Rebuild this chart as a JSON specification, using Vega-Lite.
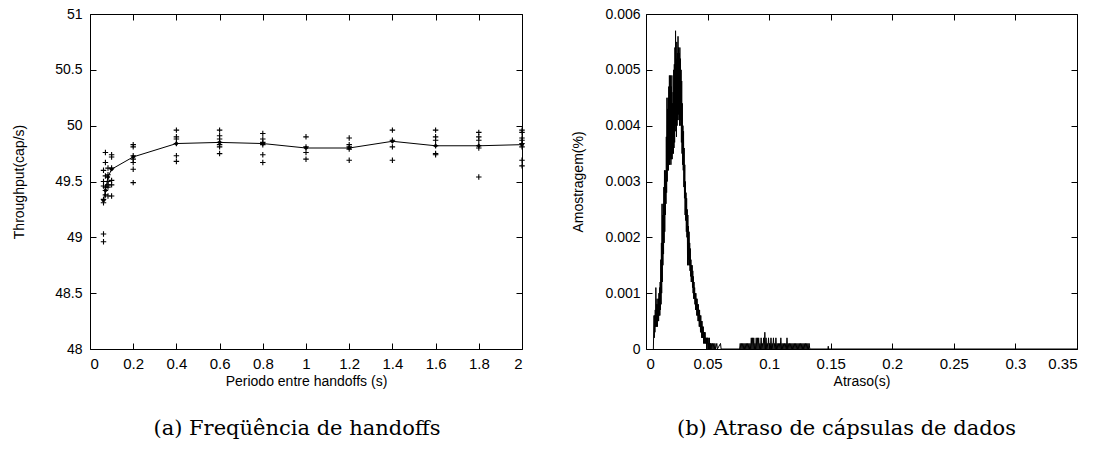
{
  "$schema": "https://vega.github.io/schema/vega-lite/v6.json",
  "background": "white",
  "padding": {"left": 12, "top": 6, "right": 5, "bottom": 5},
  "bounds": "flush",
  "spacing": 124,
  "config": {
    "view": {"stroke": "black", "strokeWidth": 1},
    "axis": {
      "grid": false,
      "domain": false,
      "ticks": true,
      "tickColor": "black",
      "tickWidth": 1,
      "tickSize": -6,
      "labelPadding": 14,
      "labelColor": "black",
      "labelFont": "Liberation Sans",
      "labelFontSize": 14,
      "titleFont": "Liberation Sans",
      "titleFontSize": 14,
      "titleFontWeight": "normal",
      "titleColor": "black"
    },
    "axisBottom": {"labelPadding": 13, "labelFontSize": 15},
    "title": {"font": "DejaVu Serif", "fontSize": 21, "fontWeight": "normal", "color": "black"}
  },
  "datasets": {
    "samples": [
      {"p": 0.0625, "t": 49.60}, {"p": 0.0625, "t": 49.50}, {"p": 0.0625, "t": 49.46}, {"p": 0.0625, "t": 49.34}, {"p": 0.0625, "t": 49.31}, {"p": 0.0625, "t": 49.03}, {"p": 0.0625, "t": 48.96},
      {"p": 0.0714, "t": 49.76}, {"p": 0.0714, "t": 49.67}, {"p": 0.0714, "t": 49.55}, {"p": 0.0714, "t": 49.45}, {"p": 0.0714, "t": 49.42}, {"p": 0.0714, "t": 49.38},
      {"p": 0.0833, "t": 49.62}, {"p": 0.0833, "t": 49.56}, {"p": 0.0833, "t": 49.50}, {"p": 0.0833, "t": 49.47}, {"p": 0.0833, "t": 49.45}, {"p": 0.0833, "t": 49.37},
      {"p": 0.1, "t": 49.74}, {"p": 0.1, "t": 49.72}, {"p": 0.1, "t": 49.62}, {"p": 0.1, "t": 49.51}, {"p": 0.1, "t": 49.47}, {"p": 0.1, "t": 49.37},
      {"p": 0.2, "t": 49.83}, {"p": 0.2, "t": 49.81}, {"p": 0.2, "t": 49.73}, {"p": 0.2, "t": 49.70}, {"p": 0.2, "t": 49.67}, {"p": 0.2, "t": 49.61}, {"p": 0.2, "t": 49.49},
      {"p": 0.4, "t": 49.96}, {"p": 0.4, "t": 49.90}, {"p": 0.4, "t": 49.88}, {"p": 0.4, "t": 49.84}, {"p": 0.4, "t": 49.73}, {"p": 0.4, "t": 49.68},
      {"p": 0.6, "t": 49.96}, {"p": 0.6, "t": 49.91}, {"p": 0.6, "t": 49.88}, {"p": 0.6, "t": 49.85}, {"p": 0.6, "t": 49.83}, {"p": 0.6, "t": 49.81}, {"p": 0.6, "t": 49.75},
      {"p": 0.8, "t": 49.93}, {"p": 0.8, "t": 49.88}, {"p": 0.8, "t": 49.85}, {"p": 0.8, "t": 49.83}, {"p": 0.8, "t": 49.74}, {"p": 0.8, "t": 49.67},
      {"p": 1.0, "t": 49.90}, {"p": 1.0, "t": 49.81}, {"p": 1.0, "t": 49.76}, {"p": 1.0, "t": 49.70},
      {"p": 1.2, "t": 49.89}, {"p": 1.2, "t": 49.83}, {"p": 1.2, "t": 49.81}, {"p": 1.2, "t": 49.79}, {"p": 1.2, "t": 49.69},
      {"p": 1.4, "t": 49.96}, {"p": 1.4, "t": 49.87}, {"p": 1.4, "t": 49.81}, {"p": 1.4, "t": 49.69},
      {"p": 1.6, "t": 49.96}, {"p": 1.6, "t": 49.90}, {"p": 1.6, "t": 49.87}, {"p": 1.6, "t": 49.82}, {"p": 1.6, "t": 49.75}, {"p": 1.6, "t": 49.74},
      {"p": 1.8, "t": 49.94}, {"p": 1.8, "t": 49.90}, {"p": 1.8, "t": 49.87}, {"p": 1.8, "t": 49.82}, {"p": 1.8, "t": 49.80}, {"p": 1.8, "t": 49.54},
      {"p": 2.0, "t": 49.96}, {"p": 2.0, "t": 49.94}, {"p": 2.0, "t": 49.89}, {"p": 2.0, "t": 49.87}, {"p": 2.0, "t": 49.84}, {"p": 2.0, "t": 49.81}, {"p": 2.0, "t": 49.69}, {"p": 2.0, "t": 49.64}
    ],
    "means": [
      {"p": 0.0625, "t": 49.33}, {"p": 0.0714, "t": 49.42}, {"p": 0.0833, "t": 49.54}, {"p": 0.1, "t": 49.61},
      {"p": 0.2, "t": 49.72}, {"p": 0.4, "t": 49.84}, {"p": 0.6, "t": 49.85}, {"p": 0.8, "t": 49.84},
      {"p": 1.0, "t": 49.80}, {"p": 1.2, "t": 49.80}, {"p": 1.4, "t": 49.86}, {"p": 1.6, "t": 49.82},
      {"p": 1.8, "t": 49.82}, {"p": 2.0, "t": 49.83}
    ],
    "delay": [
      {"d": 0.0060, "a": 0}, {"d": 0.0065, "a": 0.0006}, {"d": 0.00675, "a": 0.0002}, {"d": 0.0070, "a": 0.0006}, {"d": 0.00725, "a": 0.0003},
      {"d": 0.0075, "a": 0.0007}, {"d": 0.00775, "a": 0.0004}, {"d": 0.0080, "a": 0.0011}, {"d": 0.00825, "a": 0.0004}, {"d": 0.0085, "a": 0.0008},
      {"d": 0.00875, "a": 0.0004}, {"d": 0.0090, "a": 0.0009}, {"d": 0.00925, "a": 0.0004}, {"d": 0.0095, "a": 0.0008}, {"d": 0.00975, "a": 0.0005},
      {"d": 0.0100, "a": 0.0009}, {"d": 0.01025, "a": 0.0005}, {"d": 0.0105, "a": 0.0010}, {"d": 0.01075, "a": 0.0006}, {"d": 0.0110, "a": 0.0011},
      {"d": 0.01125, "a": 0.0006}, {"d": 0.0115, "a": 0.0012}, {"d": 0.01175, "a": 0.0007}, {"d": 0.0120, "a": 0.0016}, {"d": 0.01225, "a": 0.0008},
      {"d": 0.0125, "a": 0.0019}, {"d": 0.01275, "a": 0.0010}, {"d": 0.0130, "a": 0.0026}, {"d": 0.01325, "a": 0.0012}, {"d": 0.0135, "a": 0.0024},
      {"d": 0.01375, "a": 0.0015}, {"d": 0.0140, "a": 0.0026}, {"d": 0.01425, "a": 0.0017}, {"d": 0.0145, "a": 0.0029}, {"d": 0.01475, "a": 0.0019},
      {"d": 0.0150, "a": 0.0032}, {"d": 0.01525, "a": 0.0021}, {"d": 0.0155, "a": 0.0030}, {"d": 0.01575, "a": 0.0024}, {"d": 0.0160, "a": 0.0032},
      {"d": 0.01625, "a": 0.0026}, {"d": 0.0165, "a": 0.0038}, {"d": 0.01675, "a": 0.0028}, {"d": 0.0170, "a": 0.0045}, {"d": 0.01725, "a": 0.0030},
      {"d": 0.0175, "a": 0.0043}, {"d": 0.01775, "a": 0.0032}, {"d": 0.0180, "a": 0.0045}, {"d": 0.01825, "a": 0.0032}, {"d": 0.0185, "a": 0.0047},
      {"d": 0.01875, "a": 0.0033}, {"d": 0.0190, "a": 0.0049}, {"d": 0.01925, "a": 0.0033}, {"d": 0.0195, "a": 0.0046}, {"d": 0.01975, "a": 0.0034},
      {"d": 0.0200, "a": 0.0049}, {"d": 0.02025, "a": 0.0033}, {"d": 0.0205, "a": 0.0047}, {"d": 0.02075, "a": 0.0034}, {"d": 0.0210, "a": 0.0049},
      {"d": 0.02125, "a": 0.0034}, {"d": 0.0215, "a": 0.0044}, {"d": 0.02175, "a": 0.0035}, {"d": 0.0220, "a": 0.0046}, {"d": 0.02225, "a": 0.0035},
      {"d": 0.0225, "a": 0.0050}, {"d": 0.02275, "a": 0.0036}, {"d": 0.0230, "a": 0.0051}, {"d": 0.02325, "a": 0.0037}, {"d": 0.0235, "a": 0.0054},
      {"d": 0.02375, "a": 0.0039}, {"d": 0.0240, "a": 0.0057}, {"d": 0.02425, "a": 0.0040}, {"d": 0.0245, "a": 0.0052}, {"d": 0.02475, "a": 0.0038},
      {"d": 0.0250, "a": 0.0055}, {"d": 0.02525, "a": 0.0040}, {"d": 0.0255, "a": 0.0053}, {"d": 0.02575, "a": 0.0041}, {"d": 0.0260, "a": 0.0056},
      {"d": 0.02625, "a": 0.0042}, {"d": 0.0265, "a": 0.0054}, {"d": 0.02675, "a": 0.0041}, {"d": 0.0270, "a": 0.0053}, {"d": 0.02725, "a": 0.0040},
      {"d": 0.0275, "a": 0.0054}, {"d": 0.02775, "a": 0.0041}, {"d": 0.0280, "a": 0.0052}, {"d": 0.02825, "a": 0.0040}, {"d": 0.0285, "a": 0.0050},
      {"d": 0.02875, "a": 0.0037}, {"d": 0.0290, "a": 0.0048}, {"d": 0.02925, "a": 0.0035}, {"d": 0.0295, "a": 0.0044}, {"d": 0.02975, "a": 0.0033},
      {"d": 0.0300, "a": 0.0040}, {"d": 0.03025, "a": 0.0032}, {"d": 0.0305, "a": 0.0039}, {"d": 0.03075, "a": 0.0029}, {"d": 0.0310, "a": 0.0036},
      {"d": 0.03125, "a": 0.0027}, {"d": 0.0315, "a": 0.0033}, {"d": 0.03175, "a": 0.0024}, {"d": 0.0320, "a": 0.0030}, {"d": 0.03225, "a": 0.0023},
      {"d": 0.0325, "a": 0.0028}, {"d": 0.03275, "a": 0.0021}, {"d": 0.0330, "a": 0.0027}, {"d": 0.03325, "a": 0.0020}, {"d": 0.0335, "a": 0.0025},
      {"d": 0.03375, "a": 0.0015}, {"d": 0.0340, "a": 0.0024}, {"d": 0.03425, "a": 0.0016}, {"d": 0.0345, "a": 0.0022}, {"d": 0.03475, "a": 0.0015},
      {"d": 0.0350, "a": 0.0021}, {"d": 0.03525, "a": 0.0015}, {"d": 0.0355, "a": 0.0019}, {"d": 0.03575, "a": 0.0014}, {"d": 0.0360, "a": 0.0018},
      {"d": 0.03625, "a": 0.0013}, {"d": 0.0365, "a": 0.0016}, {"d": 0.03675, "a": 0.0012}, {"d": 0.0370, "a": 0.0015}, {"d": 0.03725, "a": 0.0012},
      {"d": 0.0375, "a": 0.0015}, {"d": 0.03775, "a": 0.0011}, {"d": 0.0380, "a": 0.0014}, {"d": 0.03825, "a": 0.0010}, {"d": 0.0385, "a": 0.0013},
      {"d": 0.03875, "a": 0.0009}, {"d": 0.0390, "a": 0.0012}, {"d": 0.03925, "a": 0.0009}, {"d": 0.0395, "a": 0.0011}, {"d": 0.03975, "a": 0.0008},
      {"d": 0.0400, "a": 0.0010}, {"d": 0.04025, "a": 0.0007}, {"d": 0.0405, "a": 0.0010}, {"d": 0.04075, "a": 0.0007}, {"d": 0.0410, "a": 0.0009},
      {"d": 0.04125, "a": 0.0006}, {"d": 0.0415, "a": 0.0009}, {"d": 0.04175, "a": 0.0006}, {"d": 0.0420, "a": 0.0008}, {"d": 0.04225, "a": 0.0005},
      {"d": 0.0425, "a": 0.0008}, {"d": 0.04275, "a": 0.0005}, {"d": 0.0430, "a": 0.0007}, {"d": 0.04325, "a": 0.0004}, {"d": 0.0435, "a": 0.0007},
      {"d": 0.04375, "a": 0.0004}, {"d": 0.0440, "a": 0.0006}, {"d": 0.04425, "a": 0.0003}, {"d": 0.0445, "a": 0.0006}, {"d": 0.04475, "a": 0.0003},
      {"d": 0.0450, "a": 0.0005}, {"d": 0.04525, "a": 0.0002}, {"d": 0.0455, "a": 0.0005}, {"d": 0.04575, "a": 0.0002}, {"d": 0.0460, "a": 0.0004},
      {"d": 0.04625, "a": 0.0002}, {"d": 0.0465, "a": 0.0004}, {"d": 0.04675, "a": 0.0001}, {"d": 0.0470, "a": 0.0003}, {"d": 0.04725, "a": 0.0001},
      {"d": 0.0475, "a": 0.0003}, {"d": 0.04775, "a": 0.0001}, {"d": 0.0480, "a": 0.0003}, {"d": 0.04825, "a": 0.0001}, {"d": 0.0485, "a": 0.0002},
      {"d": 0.04875, "a": 0.0001}, {"d": 0.0490, "a": 0.0002}, {"d": 0.04925, "a": 0}, {"d": 0.0495, "a": 0.0002}, {"d": 0.04975, "a": 0.0001},
      {"d": 0.0500, "a": 0.0002}, {"d": 0.05025, "a": 0}, {"d": 0.0505, "a": 0.0002}, {"d": 0.05075, "a": 0}, {"d": 0.0510, "a": 0.0001},
      {"d": 0.05125, "a": 0}, {"d": 0.0515, "a": 0.0002}, {"d": 0.05175, "a": 0}, {"d": 0.0520, "a": 0.0001}, {"d": 0.05225, "a": 0},
      {"d": 0.0525, "a": 0.0001}, {"d": 0.05275, "a": 0}, {"d": 0.0530, "a": 0.0001}, {"d": 0.0535, "a": 0}, {"d": 0.0540, "a": 0.0001},
      {"d": 0.0545, "a": 0}, {"d": 0.0550, "a": 0.0001}, {"d": 0.0555, "a": 0}, {"d": 0.0560, "a": 0.0001}, {"d": 0.0565, "a": 0},
      {"d": 0.0575, "a": 0.0001}, {"d": 0.0580, "a": 0}, {"d": 0.0605, "a": 0.0001}, {"d": 0.0610, "a": 0}, {"d": 0.0760, "a": 0},
      {"d": 0.0765, "a": 0.0001}, {"d": 0.077, "a": 0}, {"d": 0.0775, "a": 0.0001}, {"d": 0.078, "a": 0}, {"d": 0.0785, "a": 0.0001},
      {"d": 0.079, "a": 0}, {"d": 0.0795, "a": 0.0001}, {"d": 0.080, "a": 0}, {"d": 0.0805, "a": 0.0001}, {"d": 0.081, "a": 0},
      {"d": 0.0815, "a": 0.0001}, {"d": 0.082, "a": 0}, {"d": 0.0825, "a": 0.0001}, {"d": 0.083, "a": 0}, {"d": 0.0835, "a": 0.0001},
      {"d": 0.084, "a": 0}, {"d": 0.0845, "a": 0.0001}, {"d": 0.085, "a": 0}, {"d": 0.0855, "a": 0.0002}, {"d": 0.086, "a": 0},
      {"d": 0.0865, "a": 0.0002}, {"d": 0.087, "a": 0}, {"d": 0.0875, "a": 0.0002}, {"d": 0.088, "a": 0}, {"d": 0.0885, "a": 0.0001},
      {"d": 0.089, "a": 0}, {"d": 0.0895, "a": 0.0002}, {"d": 0.090, "a": 0}, {"d": 0.0905, "a": 0.0002}, {"d": 0.091, "a": 0},
      {"d": 0.0915, "a": 0.0002}, {"d": 0.092, "a": 0}, {"d": 0.0925, "a": 0.0001}, {"d": 0.093, "a": 0}, {"d": 0.0935, "a": 0.0002},
      {"d": 0.094, "a": 0}, {"d": 0.0945, "a": 0.0001}, {"d": 0.095, "a": 0}, {"d": 0.0955, "a": 0.0002}, {"d": 0.096, "a": 0},
      {"d": 0.0965, "a": 0.0003}, {"d": 0.097, "a": 0}, {"d": 0.0975, "a": 0.0002}, {"d": 0.098, "a": 0}, {"d": 0.0985, "a": 0.0001},
      {"d": 0.099, "a": 0}, {"d": 0.0995, "a": 0.0002}, {"d": 0.100, "a": 0}, {"d": 0.1005, "a": 0.0001}, {"d": 0.101, "a": 0},
      {"d": 0.1015, "a": 0.0002}, {"d": 0.102, "a": 0}, {"d": 0.1025, "a": 0.0001}, {"d": 0.103, "a": 0}, {"d": 0.1035, "a": 0.0002},
      {"d": 0.104, "a": 0}, {"d": 0.1045, "a": 0.0001}, {"d": 0.105, "a": 0}, {"d": 0.1055, "a": 0.0002}, {"d": 0.106, "a": 0},
      {"d": 0.1065, "a": 0.0001}, {"d": 0.107, "a": 0}, {"d": 0.1075, "a": 0.0001}, {"d": 0.108, "a": 0}, {"d": 0.1085, "a": 0.0001},
      {"d": 0.109, "a": 0}, {"d": 0.1095, "a": 0.0002}, {"d": 0.110, "a": 0}, {"d": 0.1105, "a": 0.0001}, {"d": 0.111, "a": 0},
      {"d": 0.1115, "a": 0.0001}, {"d": 0.112, "a": 0}, {"d": 0.1125, "a": 0.0001}, {"d": 0.113, "a": 0}, {"d": 0.1135, "a": 0.0001},
      {"d": 0.114, "a": 0}, {"d": 0.1145, "a": 0.0002}, {"d": 0.115, "a": 0}, {"d": 0.1155, "a": 0.0001}, {"d": 0.116, "a": 0},
      {"d": 0.1165, "a": 0.0001}, {"d": 0.117, "a": 0}, {"d": 0.1175, "a": 0.0001}, {"d": 0.118, "a": 0}, {"d": 0.1185, "a": 0.0001},
      {"d": 0.119, "a": 0}, {"d": 0.1195, "a": 0.0001}, {"d": 0.120, "a": 0}, {"d": 0.1205, "a": 0.0001}, {"d": 0.121, "a": 0},
      {"d": 0.1215, "a": 0.0001}, {"d": 0.122, "a": 0}, {"d": 0.1225, "a": 0.0001}, {"d": 0.123, "a": 0}, {"d": 0.1235, "a": 0.0001},
      {"d": 0.124, "a": 0}, {"d": 0.1245, "a": 0.0001}, {"d": 0.125, "a": 0}, {"d": 0.1255, "a": 0.0001}, {"d": 0.126, "a": 0},
      {"d": 0.1265, "a": 0.0001}, {"d": 0.127, "a": 0}, {"d": 0.1275, "a": 0.0001}, {"d": 0.128, "a": 0}, {"d": 0.1285, "a": 0.0001},
      {"d": 0.129, "a": 0}, {"d": 0.1295, "a": 0.0001}, {"d": 0.130, "a": 0}, {"d": 0.1305, "a": 0.0001}, {"d": 0.131, "a": 0},
      {"d": 0.1315, "a": 0.0001}, {"d": 0.132, "a": 0}, {"d": 0.1325, "a": 0.0001}, {"d": 0.133, "a": 0},
      {"d": 0.1478, "a": 0}, {"d": 0.148, "a": 0.00005}, {"d": 0.1482, "a": 0}, {"d": 0.35, "a": 0}
    ]
  },
  "hconcat": [
    {
      "width": 432,
      "height": 335,
      "title": {"text": "(a) Freqüência de handoffs", "orient": "bottom", "anchor": "middle", "offset": 30, "dx": -9},
      "resolve": {"axis": {"x": "independent", "y": "independent"}},
      "layer": [
        {
          "data": {"name": "samples"},
          "mark": {"type": "point", "shape": "M-1,0H1M0,-1V1", "size": 30, "filled": false, "stroke": "black", "strokeWidth": 1.1, "opacity": 1},
          "encoding": {
            "x": {"field": "p", "type": "quantitative", "scale": {"domain": [0, 2], "nice": false},
              "axis": {"title": "Periodo entre handoffs (s)", "values": [0, 0.2, 0.4, 0.6, 0.8, 1, 1.2, 1.4, 1.6, 1.8, 2], "format": "~g", "titlePadding": 3}},
            "y": {"field": "t", "type": "quantitative", "scale": {"domain": [48, 51], "nice": false, "zero": false},
              "axis": {"title": "Throughput(cap/s)", "values": [48, 48.5, 49, 49.5, 50, 50.5, 51], "format": "~g", "titlePadding": 28}}
          }
        },
        {
          "data": {"name": "means"},
          "mark": {"type": "line", "color": "black", "strokeWidth": 1},
          "encoding": {
            "x": {"field": "p", "type": "quantitative", "scale": {"domain": [0, 2], "nice": false},
              "axis": {"orient": "top", "labels": false, "title": null, "values": [0, 0.2, 0.4, 0.6, 0.8, 1, 1.2, 1.4, 1.6, 1.8, 2]}},
            "y": {"field": "t", "type": "quantitative", "scale": {"domain": [48, 51], "nice": false, "zero": false},
              "axis": {"orient": "right", "labels": false, "title": null, "values": [48, 48.5, 49, 49.5, 50, 50.5, 51]}}
          }
        },
        {
          "data": {"name": "means"},
          "mark": {"type": "point", "shape": "diamond", "size": 22, "filled": true, "color": "black", "opacity": 1},
          "encoding": {
            "x": {"field": "p", "type": "quantitative", "axis": null},
            "y": {"field": "t", "type": "quantitative", "axis": null}
          }
        }
      ]
    },
    {
      "width": 431,
      "height": 335,
      "title": {"text": "(b) Atraso de cápsulas de dados", "orient": "bottom", "anchor": "middle", "offset": 30, "dx": -15},
      "resolve": {"axis": {"x": "independent", "y": "independent"}},
      "layer": [
        {
          "data": {"name": "delay"},
          "mark": {"type": "line", "color": "black", "strokeWidth": 1},
          "encoding": {
            "x": {"field": "d", "type": "quantitative", "scale": {"domain": [0, 0.35], "nice": false},
              "axis": {"title": "Atraso(s)", "values": [0, 0.05, 0.1, 0.15, 0.2, 0.25, 0.3, 0.35], "format": "~g", "titlePadding": 3}},
            "y": {"field": "a", "type": "quantitative", "scale": {"domain": [0, 0.006], "nice": false},
              "axis": {"title": "Amostragem(%)", "values": [0, 0.001, 0.002, 0.003, 0.004, 0.005, 0.006], "format": "~g", "labelPadding": 12, "titlePadding": 19}}
          }
        },
        {
          "data": {"name": "delay"},
          "mark": {"type": "point", "opacity": 0, "size": 1},
          "encoding": {
            "x": {"field": "d", "type": "quantitative", "scale": {"domain": [0, 0.35], "nice": false},
              "axis": {"orient": "top", "labels": false, "title": null, "values": [0, 0.05, 0.1, 0.15, 0.2, 0.25, 0.3, 0.35]}},
            "y": {"field": "a", "type": "quantitative", "scale": {"domain": [0, 0.006], "nice": false},
              "axis": {"orient": "right", "labels": false, "title": null, "values": [0, 0.001, 0.002, 0.003, 0.004, 0.005, 0.006]}}
          }
        }
      ]
    }
  ]
}
